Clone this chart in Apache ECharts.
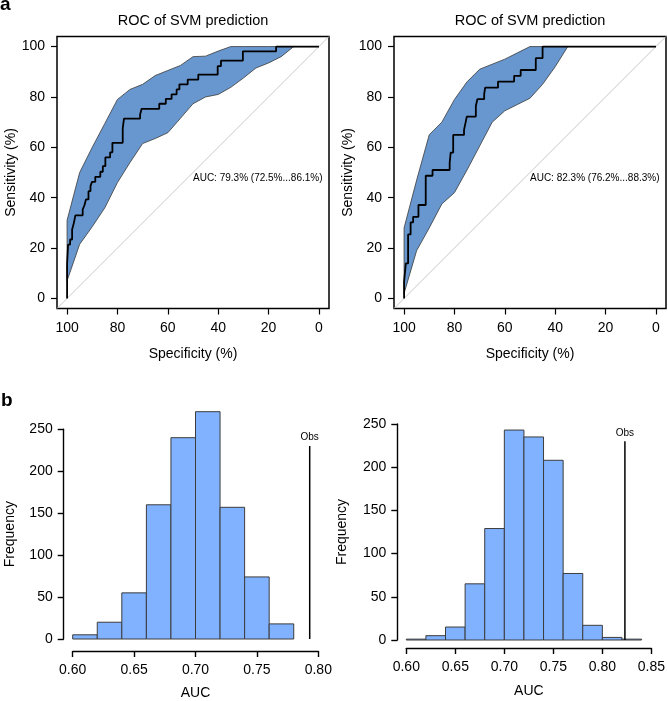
<!DOCTYPE html>
<html>
<head>
<meta charset="utf-8">
<script src="https://cdn.jsdelivr.net/npm/echarts@6/dist/echarts.min.js"></script>
<style>html,body{margin:0;padding:0;background:#fff}#c{width:668px;height:701px}</style>
</head>
<body>
<div id="c"></div>
<script>
// ---------- DATA ----------
const rocTicks = [0, 20, 40, 60, 80, 100];
// ROC step curves (specificity %, sensitivity %) vertices
const rocLSpec = [100,100,99.6,99.6,98.8,98.8,98,98,97.3,97.3,96.7,96.7,93.8,93.8,93.1,93.1,92.5,92.5,91.5,91.5,90.7,90.7,90.1,90.1,88.8,88.8,86.8,86.8,85.8,85.8,84.8,84.8,82.9,82.9,82,82,77.9,77.9,77.4,77.4,71,71,70.4,70.4,63.4,63.4,60.8,60.8,58.5,58.5,56.5,56.5,55.4,55.4,52.1,52.1,47.9,47.9,40.2,40.2,38.9,38.9,30.2,30.2,17,17,0];
const rocLSens = [0,13.5,13.5,21.4,21.4,23.4,23.4,27.4,27.4,30,30,33,33,35.3,35.3,37,37,39.3,39.3,42.6,42.6,44.6,44.6,46.3,46.3,48.3,48.3,50.3,50.3,52.5,52.5,56,56,58,58,61.8,61.8,67.5,67.5,71.4,71.4,73,73,75.3,75.3,77.3,77.3,79.2,79.2,81,81,83,83,85,85,86.9,86.9,88.9,88.9,92.2,92.2,94.4,94.4,98.1,98.1,100,100];
const rocRSpec = [100,100,99.3,99.3,98.4,98.4,97.4,97.4,96.4,96.4,94.3,94.3,91.4,91.4,88.7,88.7,81.9,81.9,81.5,81.5,80.5,80.5,76.2,76.2,75.5,75.5,75.1,75.1,71.5,71.5,70.9,70.9,68.2,68.2,67.8,67.8,62.7,62.7,56.3,56.3,53.7,53.7,47.7,47.7,45,45,0];
const rocRSens = [0,6.6,6.6,13.9,13.9,25.4,25.4,30.2,30.2,32.4,32.4,37.1,37.1,48.7,48.7,51,51,53.7,53.7,57.9,57.9,64.9,64.9,66.9,66.9,70.2,70.2,72.2,72.2,76.4,76.4,79.1,79.1,81.1,81.1,83.7,83.7,86.1,86.1,88.4,88.4,90.7,90.7,95.4,95.4,100,100];
// CI bands of sensitivity at fixed specificities
const bandSpec   = [100,95,90,85,80,75,70,65,60,55,50,45,40,35,30,25,20,15,10,5,0];
const bandLUpper = [31,50,60,69.5,79,83,85,88.5,90.5,92.5,96,96.2,98.2,100,100,100,100,100,100,100,100];
const bandLLower = [7,21.5,28.5,36,46,54,61.5,63.5,65.8,71.5,77.3,80,81,83.8,87.5,91.5,93.5,96,100,100,100];
const bandRUpper = [28,47,65,70,79,86,91,93,95,97.5,100,100,100,100,100,100,100,100,100,100,100];
const bandRLower = [2,19,28,37.5,42,51,60.5,70,74.5,77,79.5,85,92,100,100,100,100,100,100,100,100];
const aucLText = 'AUC: 79.3% (72.5%...86.1%)';
const aucRText = 'AUC: 82.3% (76.2%...88.3%)';
// Histograms of permuted AUC
const histLEdges  = [0.60,0.62,0.64,0.66,0.68,0.70,0.72,0.74,0.76,0.78];
const histLCounts = [5,20,55,160,240,271,157,74,18];
const histREdges  = [0.60,0.62,0.64,0.66,0.68,0.70,0.72,0.74,0.76,0.78,0.80,0.82,0.84];
const histRCounts = [1,5,15,65,129,243,235,208,77,17,3,1];
const obsL = 0.793, obsR = 0.823, obsHeight = 230;
const freqTicks = [0, 50, 100, 150, 200, 250];

// ---------- CHART ----------
const FONT = '"Liberation Sans", Arial, Helvetica, sans-serif';
const chart = echarts.init(document.getElementById('c'), null, {renderer: 'canvas'});

function zipPts(a, b) { return a.map((v, i) => [v, b[i]]); }
function bandPolygon(upper, lower) {
  const up = zipPts(bandSpec, upper);
  const lo = zipPts(bandSpec, lower).reverse();
  return up.concat(lo);
}
function histData(edges, counts) { return counts.map((c, i) => [edges[i], edges[i + 1], c]); }

function rocXAxis(gi) {
  return {
    gridIndex: gi, type: 'value', inverse: true, min: -4, max: 104, position: 'bottom',
    axisLine: {show: false, onZero: false},
    axisTick: {show: true, customValues: rocTicks, length: 6, inside: false, lineStyle: {color: '#000', width: 1.2}},
    axisLabel: {show: true, customValues: rocTicks, margin: 13, color: '#000', fontSize: 14, fontFamily: FONT},
    splitLine: {show: false},
    name: 'Specificity (%)', nameLocation: 'middle', nameGap: 39,
    nameTextStyle: {color: '#000', fontSize: 14, fontFamily: FONT}
  };
}
function rocYAxis(gi) {
  return {
    gridIndex: gi, type: 'value', min: -4, max: 104, position: 'left',
    axisLine: {show: false, onZero: false},
    axisTick: {show: true, customValues: rocTicks, length: 6, inside: false, lineStyle: {color: '#000', width: 1.2}},
    axisLabel: {show: true, customValues: rocTicks, margin: 12, color: '#000', fontSize: 14, fontFamily: FONT},
    splitLine: {show: false},
    name: 'Sensitivity (%)', nameLocation: 'middle', nameGap: 39,
    nameTextStyle: {color: '#000', fontSize: 14, fontFamily: FONT}
  };
}
function histXAxis(gi, max, offset, nameGap) {
  return {
    gridIndex: gi, type: 'value', min: 0.6, max: max, interval: 0.05, offset: offset, position: 'bottom',
    axisLine: {show: true, onZero: false, lineStyle: {color: '#000', width: 1.4}},
    axisTick: {show: true, length: 6, lineStyle: {color: '#000', width: 1.4}},
    axisLabel: {margin: 12, color: '#000', fontSize: 14, fontFamily: FONT, formatter: v => v.toFixed(2)},
    splitLine: {show: false},
    name: 'AUC', nameLocation: 'middle', nameGap: nameGap,
    nameTextStyle: {color: '#000', fontSize: 14, fontFamily: FONT}
  };
}
function histYAxis(gi, offset, nameGap) {
  return {
    gridIndex: gi, type: 'value', min: 0, max: 250, interval: 50, offset: offset, position: 'left',
    axisLine: {show: true, onZero: false, lineStyle: {color: '#000', width: 1.4}},
    axisTick: {show: true, length: 6, lineStyle: {color: '#000', width: 1.4}},
    axisLabel: {margin: 11, color: '#000', fontSize: 14, fontFamily: FONT},
    splitLine: {show: false},
    name: 'Frequency', nameLocation: 'middle', nameGap: nameGap,
    nameTextStyle: {color: '#000', fontSize: 14, fontFamily: FONT}
  };
}
function bandSeries(idx, poly) {
  return {
    type: 'custom', xAxisIndex: idx, yAxisIndex: idx, data: [[50, 50]], silent: true, z: 2,
    renderItem: (params, api) => ({
      type: 'polygon',
      shape: {points: poly.map(p => api.coord(p))},
      style: {fill: '#6797CE', stroke: '#3a3a3a', lineWidth: 0.8}
    })
  };
}
function histSeries(idx, data) {
  return {
    type: 'custom', xAxisIndex: idx, yAxisIndex: idx, data: data, silent: true, clip: false,
    encode: {x: [0, 1], y: 2},
    renderItem: (params, api) => {
      const p0 = api.coord([api.value(0), 0]);
      const p1 = api.coord([api.value(1), api.value(2)]);
      return {type: 'rect', shape: {x: p0[0], y: p1[1], width: p1[0] - p0[0], height: p0[1] - p1[1]},
              style: {fill: '#80B2FF', stroke: '#3c3c3c', lineWidth: 1}};
    }
  };
}
function lineSeries(idx, data, color, width, z) {
  return {type: 'line', xAxisIndex: idx, yAxisIndex: idx, data: data, symbol: 'none', silent: true,
          clip: true, z: z, lineStyle: {color: color, width: width}, animation: false};
}

const option = {
  animation: false,
  backgroundColor: '#fff',
  grid: [
    {left: 57, top: 36.5, width: 272, height: 272, show: true, borderColor: '#000', borderWidth: 1.5, backgroundColor: 'transparent'},
    {left: 394, top: 36.5, width: 272, height: 272, show: true, borderColor: '#000', borderWidth: 1.5, backgroundColor: 'transparent'},
    {left: 72.7, top: 429.3, width: 245.6, height: 210},
    {left: 406.3, top: 424, width: 247.7, height: 216}
  ],
  xAxis: [rocXAxis(0), rocXAxis(1), histXAxis(2, 0.8, 12, 35), histXAxis(3, 0.85, 8, 36)],
  yAxis: [rocYAxis(0), rocYAxis(1), histYAxis(2, 9, 47), histYAxis(3, 9, 48)],
  series: [
    bandSeries(0, bandPolygon(bandLUpper, bandLLower)),
    bandSeries(1, bandPolygon(bandRUpper, bandRLower)),
    lineSeries(0, [[-4, 104], [104, -4]], '#c8c8c8', 1, 1),
    lineSeries(1, [[-4, 104], [104, -4]], '#c8c8c8', 1, 1),
    lineSeries(0, zipPts(rocLSpec, rocLSens), '#000', 1.8, 5),
    lineSeries(1, zipPts(rocRSpec, rocRSens), '#000', 1.8, 5),
    histSeries(2, histData(histLEdges, histLCounts)),
    histSeries(3, histData(histREdges, histRCounts)),
    Object.assign(lineSeries(2, [[obsL, 0], [obsL, obsHeight]], '#000', 1.5, 5), {clip: false}),
    Object.assign(lineSeries(3, [[obsR, 0], [obsR, obsHeight]], '#000', 1.5, 5), {clip: false})
  ]
};
chart.setOption(option);

function px(gi, v) { return chart.convertToPixel({xAxisIndex: gi, yAxisIndex: gi}, v); }
const aL = px(0, [50, 50]), aR = px(1, [50, 50]);
const oL = px(2, [obsL, obsHeight]), oR = px(3, [obsR, obsHeight]);
const gL = px(0, [50, 104]), gR = px(1, [50, 104]);
function txt(x, y, t, size, align, valign, weight) {
  return {type: 'text', x: x, y: y, silent: true, z: 100,
          style: {text: t, fill: '#000', font: (weight || 'normal') + ' ' + size + 'px ' + FONT, align: align, verticalAlign: valign}};
}
chart.setOption({
  graphic: [
    txt(gL[0], 21, 'ROC of SVM prediction', 14.5, 'center', 'middle'),
    txt(gR[0], 21, 'ROC of SVM prediction', 14.5, 'center', 'middle'),
    txt(aL[0], aL[1] + 1, aucLText, 10, 'left', 'top'),
    txt(aR[0], aR[1] + 1, aucRText, 10, 'left', 'top'),
    txt(oL[0], oL[1] - 9, 'Obs', 10, 'center', 'middle'),
    txt(oR[0], oR[1] - 8, 'Obs', 10, 'center', 'middle'),
    txt(0, 5, 'a', 19, 'left', 'middle', 'bold'),
    txt(1, 401, 'b', 19, 'left', 'middle', 'bold')
  ]
});
</script>
</body>
</html>
